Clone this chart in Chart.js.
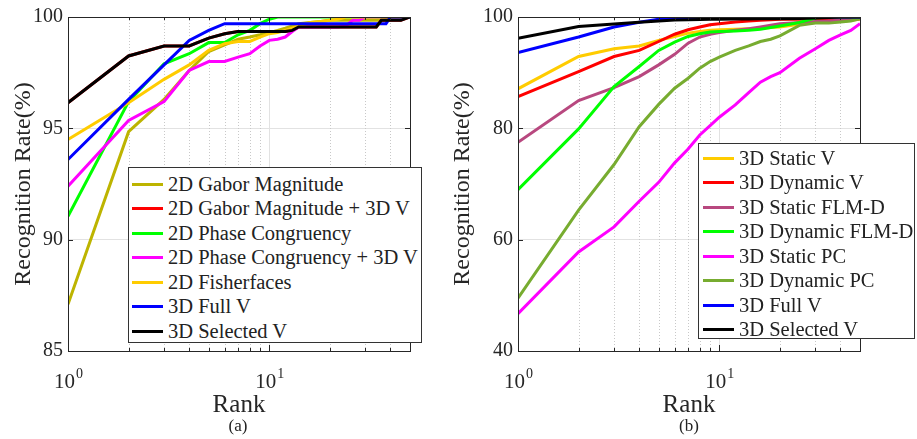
<!DOCTYPE html>
<html>
<head>
<meta charset="utf-8">
<script src="https://cdn.jsdelivr.net/npm/chart.js@4.4.1/dist/chart.umd.min.js"></script>
<style>
	body { margin: 0; background: #fff; }
	#wrap { position: relative; width: 917px; height: 439px; overflow: hidden; font-family: "Liberation Serif", serif; }
	canvas { position: absolute; top: 0; }
	.legend { position: absolute; background: #fff; border: 1px solid #333; box-sizing: border-box; font-size: 20.5px; color: #222; }
	.legend .row { display: flex; align-items: center; height: 24.5px; white-space: nowrap; }
	.legend .ln { display: inline-block; width: 31px; height: 3px; margin-right: 5px; }
	.cap { position: absolute; font-size: 17px; color: #222; transform: translateX(-50%); }
</style>
</head>
<body>
<div id="wrap">
	<canvas id="chart_a" width="440" height="439" style="left:0"></canvas>
	<canvas id="chart_b" width="477" height="439" style="left:440px"></canvas>
	<div class="legend" id="legend_a" style="left:128px; top:167px; width:294px; height:176px; padding-top:4px; padding-left:3px"></div>
	<div class="legend" id="legend_b" style="left:698px; top:143px; width:217px; height:196px; padding-top:2px; padding-left:4px"></div>
	<div class="cap" style="left:238px; top:416px">(a)</div>
	<div class="cap" style="left:689px; top:416px">(b)</div>
</div>
<script>
// ---- panel (a) ----
const rank_a = [1, 2, 3, 4, 5, 6, 7, 8, 9, 10, 11, 12, 13, 14, 16, 18, 20, 22, 24, 26, 28, 30, 32, 34, 36, 38, 40, 45, 50];
const gabor_mag = [87.1, 94.85, 96.3, 97.6, 98.45, 98.75, 99.0, 99.1, 99.2, 99.3, 99.4, 99.5, 99.6, 99.7, 99.75, 99.8, 99.85, 99.85, 99.85, 99.85, 99.85, 99.85, 99.85, 99.85, 99.85, 99.9, 100, 100, 100];
const gabor_mag_3d = [96.15, 98.25, 98.7, 98.7, 99.05, 99.25, 99.35, 99.35, 99.35, 99.35, 99.35, 99.35, 99.4, 99.55, 99.55, 99.55, 99.55, 99.55, 99.55, 99.55, 99.55, 99.55, 99.55, 99.55, 99.85, 99.85, 99.85, 99.85, 100];
const phase_cong = [91.05, 96.2, 97.9, 98.35, 98.85, 98.85, 99.2, 99.4, 99.7, 99.9, 100, 100, 100, 100, 100, 100, 100, 100, 100, 100, 100, 100, 100, 100, 100, 100, 100, 100, 100];
const phase_cong_3d = [92.4, 95.35, 96.2, 97.6, 98.0, 98.0, 98.2, 98.35, 98.7, 98.95, 99.0, 99.1, 99.35, 99.55, 99.55, 99.55, 99.55, 99.55, 99.6, 99.85, 99.85, 100, 100, 100, 100, 100, 100, 100, 100];
const fisherfaces = [94.5, 96.15, 97.2, 97.85, 98.5, 98.8, 98.9, 98.9, 99.1, 99.25, 99.3, 99.4, 99.5, 99.6, 99.75, 99.8, 99.85, 99.9, 100, 100, 100, 100, 100, 100, 100, 100, 100, 100, 100];
const full_v_a = [93.6, 96.3, 97.85, 98.95, 99.4, 99.7, 99.7, 99.7, 99.7, 99.7, 99.7, 99.7, 99.7, 99.7, 99.7, 99.7, 99.7, 99.7, 99.7, 99.7, 99.7, 99.7, 99.7, 99.7, 99.7, 99.7, 100, 100, 100];
const selected_v_a = [96.15, 98.25, 98.7, 98.7, 99.05, 99.25, 99.35, 99.35, 99.35, 99.35, 99.35, 99.35, 99.4, 99.55, 99.55, 99.55, 99.55, 99.55, 99.55, 99.55, 99.55, 99.55, 99.55, 99.55, 99.85, 99.85, 99.85, 99.85, 100];

// ---- panel (b) ----
const rank_b = [1, 2, 3, 4, 5, 6, 7, 8, 9, 10, 12, 14, 16, 18, 20, 25, 30, 35, 40, 45, 50];
const static_v = [87.1, 92.9, 94.3, 94.8, 95.8, 96.5, 97.1, 97.4, 97.6, 97.7, 97.8, 97.9, 98.0, 98.1, 98.2, 98.7, 99.0, 99.1, 99.2, 99.4, 99.6];
const dynamic_v = [85.7, 90.2, 92.9, 94.0, 95.6, 96.9, 97.7, 98.2, 98.6, 98.8, 99.1, 99.3, 99.4, 99.5, 99.6, 99.6, 99.7, 99.7, 99.8, 99.8, 99.8];
const static_flm = [77.5, 85.0, 87.3, 89.3, 91.4, 93.3, 95.3, 96.4, 96.9, 97.2, 97.6, 97.9, 98.2, 98.5, 98.8, 99.0, 99.2, 99.3, 99.4, 99.5, 99.7];
const dynamic_flm = [69.0, 79.9, 87.5, 91.1, 94.0, 95.5, 96.5, 97.0, 97.3, 97.4, 97.5, 97.6, 97.8, 98.1, 98.4, 99.0, 99.8, 100, 100, 100, 100];
const static_pc = [46.7, 57.8, 62.3, 66.9, 70.3, 73.8, 76.3, 78.8, 80.5, 82.0, 84.2, 86.4, 88.3, 89.3, 90.0, 92.6, 94.3, 95.8, 96.8, 97.6, 98.8];
const dynamic_pc = [49.5, 65.3, 73.5, 80.3, 84.3, 87.2, 89.0, 90.8, 92.0, 92.8, 94.0, 94.8, 95.6, 96.0, 96.6, 98.5, 98.9, 98.9, 99.1, 99.3, 99.7];
const full_v_b = [93.6, 96.4, 98.2, 99.05, 99.6, 99.8, 99.85, 99.9, 99.9, 99.9, 100, 100, 100, 100, 100, 100, 100, 100, 100, 100, 100];
const selected_v_b = [96.2, 98.3, 98.75, 99.05, 99.3, 99.45, 99.5, 99.55, 99.6, 99.6, 99.65, 99.65, 99.7, 99.7, 99.7, 99.75, 99.8, 99.9, 100, 100, 100];

const minor_ranks = [2, 3, 4, 5, 6, 7, 8, 9, 20, 30, 40];
const major_ranks = [1, 10];

const serif = "Liberation Serif";
const ink = "#262626";

function series(label, xs, ys, color) {
	return { label, data: xs.map((r, i) => ({ x: r, y: ys[i] })), borderColor: color, backgroundColor: color, borderWidth: 3, pointRadius: 0, tension: 0 };
}

// dotted minor grid, box frame, inward ticks, 10^n labels
const framePlugin = {
	id: "frame",
	beforeDatasetsDraw(chart) {
		const { ctx, chartArea: a, scales: { x } } = chart;
		ctx.save();
		ctx.strokeStyle = "#c8c8c8";
		ctx.lineWidth = 1;
		ctx.setLineDash([1, 2]);
		minor_ranks.forEach(v => {
			const px = Math.round(x.getPixelForValue(v)) + 0.5;
			ctx.beginPath();
			ctx.moveTo(px, a.top);
			ctx.lineTo(px, a.bottom);
			ctx.stroke();
		});
		ctx.restore();
	},
	afterDraw(chart) {
		const { ctx, chartArea: a, scales: { x, y } } = chart;
		ctx.save();
		ctx.strokeStyle = ink;
		ctx.lineWidth = 1;
		ctx.strokeRect(Math.round(a.left) + 0.5, Math.round(a.top) + 0.5, Math.round(a.right - a.left), Math.round(a.bottom - a.top));
		ctx.beginPath();
		minor_ranks.concat(major_ranks).forEach(v => {
			const px = Math.round(x.getPixelForValue(v)) + 0.5;
			const len = major_ranks.includes(v) ? 6 : 3;
			ctx.moveTo(px, a.bottom); ctx.lineTo(px, a.bottom - len);
			ctx.moveTo(px, a.top); ctx.lineTo(px, a.top + len);
		});
		y.ticks.forEach(t => {
			const py = Math.round(y.getPixelForValue(t.value)) + 0.5;
			ctx.moveTo(a.left, py); ctx.lineTo(a.left + 5, py);
			ctx.moveTo(a.right, py); ctx.lineTo(a.right - 5, py);
		});
		ctx.stroke();
		ctx.fillStyle = ink;
		ctx.textBaseline = "alphabetic";
		major_ranks.forEach((v, i) => {
			const px = x.getPixelForValue(v);
			ctx.font = "21px " + serif;
			const w1 = ctx.measureText("10").width;
			ctx.font = "14px " + serif;
			const w2 = ctx.measureText(String(i)).width;
			const x0 = px - (w1 + w2) / 2;
			ctx.font = "21px " + serif;
			ctx.fillText("10", x0, a.bottom + 37);
			ctx.font = "14px " + serif;
			ctx.fillText(String(i), x0 + w1 + 1, a.bottom + 27);
		});
		ctx.restore();
	}
};

function makeChart(id, datasets, ymin, ymax, step, yWidth, padRight, titlePad) {
	const n = datasets.length;
	datasets.forEach((d, i) => { d.order = n - 1 - i; });
	return new Chart(document.getElementById(id), {
		type: "line",
		data: { datasets },
		options: {
			responsive: false,
			animation: false,
			devicePixelRatio: 1,
			layout: { padding: { top: 13, right: padRight, bottom: 0, left: 0 } },
			plugins: { legend: { display: false }, tooltip: { enabled: false } },
			scales: {
				x: {
					type: "logarithmic",
					min: 1,
					max: 50,
					afterBuildTicks: s => { s.ticks = major_ranks.map(v => ({ value: v })); },
					afterFit: s => { s.height = 88; },
					ticks: { display: false },
					grid: { color: "#e2e2e2", drawTicks: false },
					border: { display: false },
					title: { display: true, text: "Rank", color: ink, font: { family: serif, size: 25 }, padding: { top: 0, bottom: 19 } },
				},
				y: {
					min: ymin,
					max: ymax,
					afterFit: s => { s.width = yWidth; },
					ticks: { stepSize: step, color: ink, padding: 5, font: { family: serif, size: 20 } },
					grid: { color: "#e2e2e2", drawTicks: false },
					border: { display: false },
					title: { display: true, text: "Recognition Rate(%)", color: ink, font: { family: serif, size: 24 }, padding: { top: titlePad, bottom: 0 } },
				},
			},
		},
		plugins: [framePlugin],
	});
}

function buildLegend(id, datasets) {
	const box = document.getElementById(id);
	datasets.forEach(d => {
		const row = document.createElement("div");
		row.className = "row";
		row.innerHTML = '<span class="ln" style="background:' + d.borderColor + '"></span><span>' + d.label + "</span>";
		box.appendChild(row);
	});
}

const sets_a = [
	series("2D Gabor Magnitude", rank_a, gabor_mag, "#bdb400"),
	series("2D Gabor Magnitude + 3D V", rank_a, gabor_mag_3d, "#ff0000"),
	series("2D Phase Congruency", rank_a, phase_cong, "#00ff00"),
	series("2D Phase Congruency + 3D V", rank_a, phase_cong_3d, "#ff00ff"),
	series("2D Fisherfaces", rank_a, fisherfaces, "#ffcc00"),
	series("3D Full V", rank_a, full_v_a, "#0000ff"),
	series("3D Selected V", rank_a, selected_v_a, "#000000"),
];
const sets_b = [
	series("3D Static V", rank_b, static_v, "#ffcc00"),
	series("3D Dynamic V", rank_b, dynamic_v, "#ff0000"),
	series("3D Static FLM-D", rank_b, static_flm, "#b8487f"),
	series("3D Dynamic FLM-D", rank_b, dynamic_flm, "#00ff00"),
	series("3D Static PC", rank_b, static_pc, "#ff00ff"),
	series("3D Dynamic PC", rank_b, dynamic_pc, "#77ac30"),
	series("3D Full V", rank_b, full_v_b, "#0000ff"),
	series("3D Selected V", rank_b, selected_v_b, "#000000"),
];

buildLegend("legend_a", sets_a);
buildLegend("legend_b", sets_b);
makeChart("chart_a", sets_a, 85, 100, 5, 68, 30, 9);
makeChart("chart_b", sets_b, 40, 100, 20, 78, 57, 8);
</script>
</body>
</html>
